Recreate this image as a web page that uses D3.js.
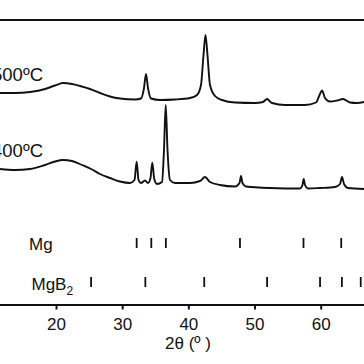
<!DOCTYPE html>
<html>
<head>
<meta charset="utf-8">
<script src="https://cdn.jsdelivr.net/npm/d3@7"></script>
<style>
  html, body { margin: 0; padding: 0; background: #fff; }
  svg { display: block; font-family: "Liberation Sans", Arial, sans-serif; }
  .curve { fill: none; stroke: #111; stroke-width: 1.9; stroke-linejoin: round; }
  .axis path, .axis line { stroke: #111; stroke-width: 2; }
  .axis text { fill: #111; }
</style>
</head>
<body>
<div id="chart"></div>
<script>
// XRD patterns, 2theta in degrees, intensity in a.u. (curves already offset)
var theta500 = [11.54,13.80,16.07,18.34,19.85,21.06,22.42,23.63,25.14,26.65,28.16,29.67,31.94,32.84,33.30,33.60,33.90,34.36,35.72,37.98,40.25,41.31,41.91,42.29,42.59,42.89,43.27,44.03,45.08,47.05,50.07,51.28,51.88,52.64,54.60,57.63,59.29,59.89,60.20,60.65,61.40,62.47,63.37,64.43,65.49,66.55];
var int500   = [211.5,211.5,212.5,215.5,219,221.5,220.5,218.5,215.5,211.5,208,206,205,206,216.5,230.5,216.5,206,204.5,205,206.5,209.5,219.5,249.5,269.5,249.5,219.5,208.5,204.5,202,201.5,202.5,205.5,201.5,199.5,199.5,202,210.5,214,206.5,203,204,205.5,202,201.5,202.5];

var theta400 = [11.54,13.80,16.07,18.34,19.85,21.06,22.42,23.93,25.44,26.65,28.16,29.67,31.18,31.86,32.19,32.47,32.84,33.45,33.90,34.28,34.55,34.85,35.26,36.02,36.32,36.58,36.85,37.23,37.98,40.25,41.76,42.52,43.27,44.78,47.05,47.73,47.96,48.18,48.71,52.34,56.87,57.25,57.43,57.63,58.08,59.89,62.16,62.92,63.22,63.52,64.12,66.55];
var int400   = [135.5,134.5,135.5,139.5,143,144.5,143.5,139.5,135,130.5,126.5,123,121.5,124.5,142.8,124.5,121.5,124,121.5,126.5,141.8,125.5,120.5,122.5,154.5,199.5,154.5,124.5,121.5,121.5,123.5,127.5,122.5,119.5,118,121.5,128.5,121.5,118,116.5,116,119.5,125.5,119.5,116,116.5,117.5,120.5,127.5,120.5,116.5,115.5];

var curveLabels = ["500ºC", "400ºC"];

// reference phase positions
var phases = ["Mg", "MgB2"];
var mgLines   = [32.19, 34.4, 36.6, 47.8, 57.4, 63.1];
var mgb2Lines = [25.3, 33.5, 42.4, 51.9, 59.9, 63.2, 66.05];

var xTicks = [20, 30, 40, 50, 60];

var width = 364, height = 364;
var axisY = 304.5, topY = 20;

var svg = d3.select("#chart").append("svg")
  .attr("width", width)
  .attr("height", height);

var x = d3.scaleLinear().domain([20, 60]).range([56, 320.7]);
var y = d3.scaleLinear().domain([0, axisY - topY]).range([axisY, topY]);
var rowY = d3.scalePoint().domain(phases).range([243, 282]);

// top frame line
svg.append("line")
  .attr("x1", 0).attr("x2", width)
  .attr("y1", topY).attr("y2", topY)
  .attr("stroke", "#111").attr("stroke-width", 1.8);

// bottom axis (extends past both edges of the picture)
var xAxisScale = x.copy().domain([10, 68]).range([x(10), x(68)]);
svg.append("g")
  .attr("class", "axis")
  .attr("transform", "translate(0," + axisY + ")")
  .call(d3.axisBottom(xAxisScale).tickValues(xTicks).tickSize(5).tickSizeOuter(0).tickPadding(6))
  .selectAll("text").attr("font-size", 17).attr("dy", "0.87em");

svg.append("text")
  .attr("x", 188).attr("y", 349)
  .attr("text-anchor", "middle")
  .attr("font-size", 17)
  .attr("fill", "#111")
  .text("2θ (º )");

var line = d3.line()
  .x(function(d) { return x(d[0]); })
  .y(function(d) { return y(d[1]); })
  .curve(d3.curveMonotoneX);

var series = [d3.zip(theta500, int500), d3.zip(theta400, int400)];

svg.selectAll("path.curve")
  .data(series)
  .enter().append("path")
  .attr("class", "curve")
  .attr("d", line);

// temperature labels (left part runs off the picture, as in the source)
svg.selectAll("text.tlabel")
  .data(curveLabels)
  .enter().append("text")
  .attr("class", "tlabel")
  .attr("x", 43)
  .attr("y", function(d, i) { return [81, 156.5][i]; })
  .attr("text-anchor", "end")
  .attr("font-size", 18.5)
  .attr("fill", "#111")
  .text(function(d) { return d; });

// phase tick rows
var rows = [mgLines, mgb2Lines];
rows.forEach(function(vals, i) {
  var cy = rowY(phases[i]);
  svg.selectAll("line.ph" + i)
    .data(vals)
    .enter().append("line")
    .attr("class", "ph" + i)
    .attr("x1", function(d) { return x(d); })
    .attr("x2", function(d) { return x(d); })
    .attr("y1", cy - 5).attr("y2", cy + 5)
    .attr("stroke", "#111").attr("stroke-width", 1.8);
});

svg.append("text")
  .attr("x", 29).attr("y", rowY("Mg") + 6.5)
  .attr("font-size", 17).attr("fill", "#111")
  .text("Mg");

var mgb2 = svg.append("text")
  .attr("x", 31.5).attr("y", rowY("MgB2") + 8)
  .attr("font-size", 17).attr("fill", "#111");
mgb2.append("tspan").text("MgB");
mgb2.append("tspan").attr("dy", 5).attr("font-size", 12).text("2");
</script>
</body>
</html>
